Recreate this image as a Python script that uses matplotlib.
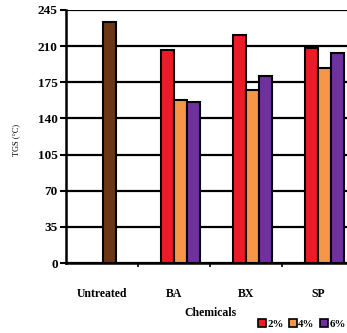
import matplotlib
matplotlib.use("Agg")
import matplotlib.pyplot as plt
from matplotlib.patches import Patch

categories = ["Untreated", "BA", "BX", "SP"]
untreated_value = 233
series_labels = ["2%", "4%", "6%"]
series_values = {
    "2%": [206, 221, 208],
    "4%": [158, 168, 189],
    "6%": [156, 181, 203],
}
y_ticks = [0, 35, 70, 105, 140, 175, 210, 245]

colors = {"2%": "#ED1C24", "4%": "#F79646", "6%": "#7030A0"}
brown = "#6B3714"

plt.rcParams['font.family'] = ['Liberation Serif', 'DejaVu Serif']

fig = plt.figure(figsize=(3.47, 3.33), dpi=100)
ax = fig.add_axes([66/347, 1-263/333, (354-66)/347, (263-10)/333])

w = 0.18
offsets = {"2%": -0.09, "4%": 0.09, "6%": 0.27}
centers = [0.5, 1.5, 2.5, 3.5]

ax.bar(centers[0] + 0.11, untreated_value, width=w, color=brown,
       edgecolor="black", linewidth=1.5, zorder=3)
for s in series_labels:
    xs = [c + offsets[s] for c in centers[1:]]
    ax.bar(xs, series_values[s], width=w, color=colors[s],
           edgecolor="black", linewidth=1.5, zorder=3)

ax.set_xlim(0, 4)
ax.set_ylim(0, 245)
ax.set_yticks(y_ticks)
ax.set_yticklabels([str(t) for t in y_ticks], fontsize=9.5, fontweight="bold")
ax.yaxis.grid(True, color="black", linewidth=1.6, zorder=0)
ax.set_axisbelow(True)

ax.set_xticks(centers)
ax.set_xticklabels(categories, fontsize=8.5, fontweight="bold")
ax.set_xticks([1, 2, 3], minor=True)
ax.tick_params(axis="x", which="major", length=0, pad=18)
ax.tick_params(axis="x", which="minor", length=3, width=1.2, direction="out")
ax.tick_params(axis="y", length=4, width=1.5, direction="out", pad=2)

for sp in ["top", "right"]:
    ax.spines[sp].set_visible(False)
ax.spines["left"].set_linewidth(1.8)
ax.spines["bottom"].set_linewidth(1.8)

fig.text(210/347, 1-313/333, "Chemicals", ha="center", va="center",
         fontsize=8.5, fontweight="bold")
fig.text(16/347, 1-140/333, "TGS (°C)", ha="center", va="center",
         rotation=90, fontsize=6)

handles = [Patch(facecolor=colors[s], edgecolor="black", linewidth=1.2) for s in series_labels]
fig.legend(handles, series_labels, loc="center left", bbox_to_anchor=(258/347, 1-324/333),
           ncol=3, frameon=False, handlelength=0.7, handleheight=0.7,
           handletextpad=0.15, columnspacing=0.5, borderpad=0, borderaxespad=0,
           prop={"weight": "bold", "size": 7.8})

fig.savefig("out.png", dpi=100)
